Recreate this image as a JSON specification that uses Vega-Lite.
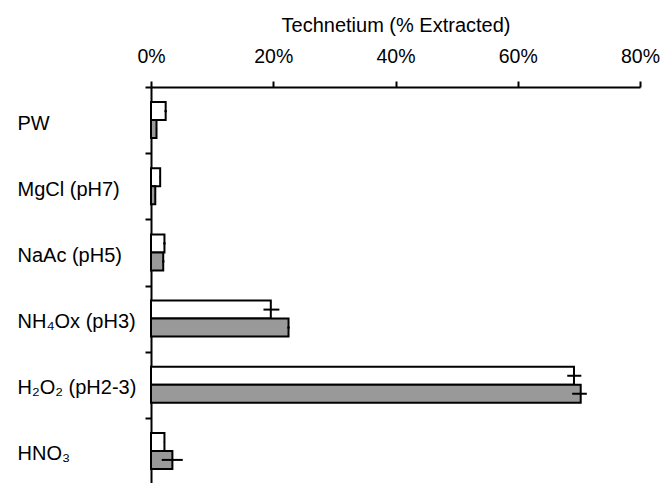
{
  "$schema": "https://vega.github.io/schema/vega-lite/v6.json",
  "width": 489,
  "height": 397,
  "autosize": {"type": "none"},
  "padding": {"left": 151, "top": 87, "right": 22, "bottom": 0},
  "background": "white",
  "config": {
    "view": {"stroke": null},
    "font": "Liberation Sans",
    "axis": {
      "domainColor": "black",
      "domainWidth": 2,
      "tickColor": "black",
      "tickWidth": 2,
      "tickSize": 6,
      "labelColor": "black",
      "titleColor": "black",
      "labelFont": "Liberation Sans",
      "titleFont": "Liberation Sans",
      "grid": false
    }
  },
  "data": {
    "values": [
      {"treatment": "PW", "series": "A", "value": 2.4, "lo": 2.2, "hi": 2.6},
      {"treatment": "PW", "series": "B", "value": 0.9, "lo": 0.8, "hi": 1.0},
      {"treatment": "MgCl (pH7)", "series": "A", "value": 1.5, "lo": 1.4, "hi": 1.6},
      {"treatment": "MgCl (pH7)", "series": "B", "value": 0.7, "lo": 0.6, "hi": 0.8},
      {"treatment": "NaAc (pH5)", "series": "A", "value": 2.2, "lo": 2.0, "hi": 2.4},
      {"treatment": "NaAc (pH5)", "series": "B", "value": 2.0, "lo": 1.8, "hi": 2.2},
      {"treatment": "NH₄Ox (pH3)", "series": "A", "value": 19.6, "lo": 18.4, "hi": 21.0},
      {"treatment": "NH₄Ox (pH3)", "series": "B", "value": 22.5, "lo": 22.3, "hi": 22.7},
      {"treatment": "H₂O₂ (pH2-3)", "series": "A", "value": 69.2, "lo": 68.1, "hi": 70.4},
      {"treatment": "H₂O₂ (pH2-3)", "series": "B", "value": 70.3, "lo": 68.9, "hi": 71.3},
      {"treatment": "HNO₃", "series": "A", "value": 2.2, "lo": 2.1, "hi": 2.3},
      {"treatment": "HNO₃", "series": "B", "value": 3.5, "lo": 1.75, "hi": 5.2}
    ]
  },
  "encoding": {
    "y": {
      "field": "treatment",
      "type": "nominal",
      "sort": null,
      "scale": {"paddingInner": 0, "paddingOuter": 0},
      "axis": {
        "title": null,
        "tickBand": "extent",
        "labelAlign": "left",
        "labelPadding": 128,
        "labelOffset": 3,
        "labelFontSize": 20,
        "labelLimit": 200
      }
    },
    "yOffset": {
      "field": "series",
      "type": "nominal",
      "scale": {"paddingInner": 0, "paddingOuter": 0.84}
    }
  },
  "layer": [
    {
      "mark": {"type": "bar", "stroke": "black", "strokeWidth": 2},
      "encoding": {
        "x": {
          "field": "value",
          "type": "quantitative",
          "scale": {"domain": [0, 80], "nice": false},
          "axis": {
            "orient": "top",
            "values": [0, 20, 40, 60, 80],
            "labelExpr": "datum.value + '%'",
            "labelFlush": false,
            "labelFontSize": 19.5,
            "labelPadding": 15,
            "title": "Technetium (% Extracted)",
            "titleFontSize": 20,
            "titleFontWeight": "normal",
            "titlePadding": 11
          }
        },
        "color": {
          "field": "series",
          "type": "nominal",
          "scale": {"domain": ["A", "B"], "range": ["#ffffff", "#999999"]},
          "legend": null
        }
      }
    },
    {
      "mark": {"type": "rule", "color": "black", "strokeWidth": 2},
      "encoding": {
        "x": {"field": "lo", "type": "quantitative"},
        "x2": {"field": "hi"}
      }
    }
  ]
}
